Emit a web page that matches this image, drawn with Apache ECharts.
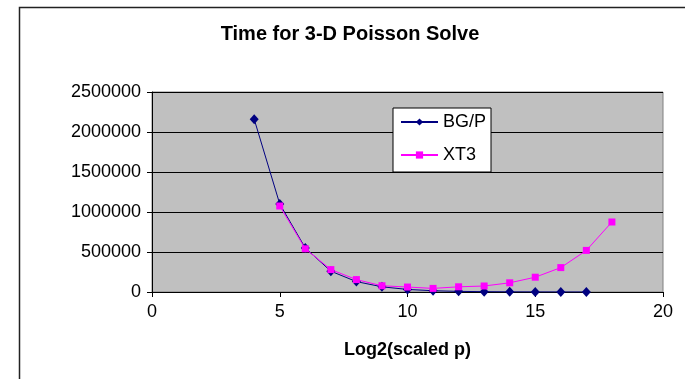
<!DOCTYPE html>
<html>
<head>
<meta charset="utf-8">
<title>Time for 3-D Poisson Solve</title>
<script src="https://cdn.jsdelivr.net/npm/echarts@6/dist/echarts.min.js"></script>
<style>
  html, body { margin: 0; padding: 0; background: #fff; }
  #main { width: 685px; height: 379px; }
</style>
</head>
<body>
<div id="main"></div>
<script>
// x 值: log2(scaled p)
var bgpX = [4, 5, 6, 7, 8, 9, 10, 11, 12, 13, 14, 15, 16, 17];
var bgpY = [2160000, 1100000, 550000, 260000, 130000, 65000, 32000, 16000, 8000, 4000, 2000, 1000, 500, 250];
var xt3X = [5, 6, 7, 8, 9, 10, 11, 12, 13, 14, 15, 16, 17, 18];
var xt3Y = [1075000, 540000, 280000, 155000, 78000, 62000, 45000, 65000, 75000, 115000, 185000, 305000, 520000, 875000];
var xTicks = [0, 5, 10, 15, 20];
var yTicks = [0, 500000, 1000000, 1500000, 2000000, 2500000];

function pairs(xs, ys) {
  return xs.map(function (x, i) { return [x, ys[i]]; });
}

var FONT = '"Liberation Sans", Arial, sans-serif';

var chart = echarts.init(document.getElementById('main'));

var option = {
  animation: false,
  textStyle: { fontFamily: FONT },
  // 外框
  graphic: [{
    type: 'rect',
    shape: { x: 19.5, y: 7.5, width: 700, height: 400 },
    style: { fill: 'none', stroke: '#222', lineWidth: 1.5 },
    silent: true,
    z: 0
  }],
  title: {
    text: 'Time for 3-D Poisson Solve',
    left: 350,
    textAlign: 'center',
    top: 24,
    padding: 0,
    textStyle: { fontFamily: FONT, fontSize: 20, fontWeight: 'bold', color: '#000' }
  },
  legend: {
    orient: 'vertical',
    left: 393,
    top: 108,
    padding: [4, 5, 7, 7],
    itemGap: 13,
    itemWidth: 37,
    itemHeight: 9,
    backgroundColor: '#fff',
    borderColor: '#000',
    borderWidth: 1,
    textStyle: { fontFamily: FONT, fontSize: 18, color: '#000', lineHeight: 20 },
    data: ['BG/P', 'XT3']
  },
  grid: {
    left: 152,
    right: 22,
    top: 92,
    bottom: 87,
    show: true,
    backgroundColor: '#C0C0C0',
    borderColor: '#808080',
    borderWidth: 1
  },
  xAxis: {
    type: 'value',
    min: xTicks[0],
    max: xTicks[xTicks.length - 1],
    interval: 5,
    name: 'Log2(scaled p)',
    nameLocation: 'middle',
    nameGap: 49,
    nameTextStyle: { fontFamily: FONT, fontSize: 18, fontWeight: 'bold', color: '#000' },
    axisLine: { onZero: false, lineStyle: { color: '#000', width: 1 } },
    axisTick: { show: true, length: 5, lineStyle: { color: '#000' } },
    axisLabel: { fontFamily: FONT, fontSize: 18, color: '#000', margin: 11 },
    splitLine: { show: false }
  },
  yAxis: {
    type: 'value',
    min: yTicks[0],
    max: yTicks[yTicks.length - 1],
    interval: 500000,
    axisLine: { show: true, lineStyle: { color: '#000', width: 1 } },
    axisTick: { show: true, length: 5, lineStyle: { color: '#000' } },
    axisLabel: {
      fontFamily: FONT, fontSize: 18, color: '#000', margin: 11,
      formatter: function (v) { return String(v); }
    },
    splitLine: { show: true, lineStyle: { color: '#000', width: 1 } }
  },
  series: [
    {
      name: 'BG/P',
      type: 'line',
      data: pairs(bgpX, bgpY),
      symbol: 'diamond',
      symbolSize: [9, 10],
      color: '#000080',
      lineStyle: { color: '#000080', width: 1 },
      itemStyle: { color: '#000080' },
      z: 3
    },
    {
      name: 'XT3',
      type: 'line',
      data: pairs(xt3X, xt3Y),
      symbol: 'rect',
      symbolSize: 7,
      color: '#FF00FF',
      lineStyle: { color: '#FF00FF', width: 1 },
      itemStyle: { color: '#FF00FF' },
      z: 4
    }
  ]
};

chart.setOption(option);
</script>
</body>
</html>
